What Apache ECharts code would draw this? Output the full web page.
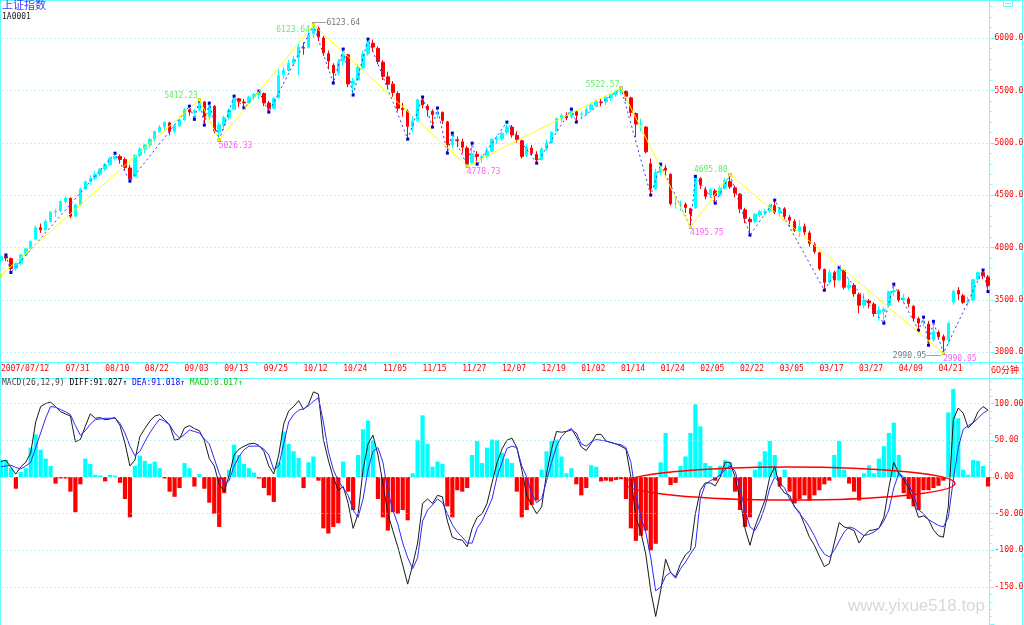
<!DOCTYPE html>
<html>
<head>
<meta charset="utf-8">
<title>上证指数 60分钟 MACD</title>
<script src="https://cdn.jsdelivr.net/npm/echarts@6/dist/echarts.min.js"></script>
<style>
html, body { margin: 0; padding: 0; background: #fff; }
#main { width: 1024px; height: 625px; }
</style>
</head>
<body>
<div id="main"></div>
<script>
// trading days on the chart (one candle per day)
const dates = [
  '2007/07/12','2007/07/13','2007/07/16','2007/07/17','2007/07/18','2007/07/19','2007/07/20','2007/07/23','2007/07/24','2007/07/25','2007/07/26','2007/07/27','2007/07/30','2007/07/31',
  '2007/08/01','2007/08/02','2007/08/03','2007/08/06','2007/08/07','2007/08/08','2007/08/09','2007/08/10','2007/08/13','2007/08/14','2007/08/15','2007/08/16','2007/08/17','2007/08/20','2007/08/21','2007/08/22','2007/08/23','2007/08/24','2007/08/27','2007/08/28','2007/08/29','2007/08/30','2007/08/31',
  '2007/09/03','2007/09/04','2007/09/05','2007/09/06','2007/09/07','2007/09/10','2007/09/11','2007/09/12','2007/09/13','2007/09/14','2007/09/17','2007/09/18','2007/09/19','2007/09/20','2007/09/21','2007/09/24','2007/09/25','2007/09/26','2007/09/27','2007/09/28',
  '2007/10/08','2007/10/09','2007/10/10','2007/10/11','2007/10/12','2007/10/15','2007/10/16','2007/10/17','2007/10/18','2007/10/19','2007/10/22','2007/10/23','2007/10/24','2007/10/25','2007/10/26','2007/10/29','2007/10/30','2007/10/31',
  '2007/11/01','2007/11/02','2007/11/05','2007/11/06','2007/11/07','2007/11/08','2007/11/09','2007/11/12','2007/11/13','2007/11/14','2007/11/15','2007/11/16','2007/11/19','2007/11/20','2007/11/21','2007/11/22','2007/11/23','2007/11/26','2007/11/27','2007/11/28','2007/11/29','2007/11/30',
  '2007/12/03','2007/12/04','2007/12/05','2007/12/06','2007/12/07','2007/12/10','2007/12/11','2007/12/12','2007/12/13','2007/12/14','2007/12/17','2007/12/18','2007/12/19','2007/12/20','2007/12/21','2007/12/24','2007/12/25','2007/12/26','2007/12/27','2007/12/28',
  '2008/01/02','2008/01/03','2008/01/04','2008/01/07','2008/01/08','2008/01/09','2008/01/10','2008/01/11','2008/01/14','2008/01/15','2008/01/16','2008/01/17','2008/01/18','2008/01/21','2008/01/22','2008/01/23','2008/01/24','2008/01/25','2008/01/28','2008/01/29','2008/01/30','2008/01/31',
  '2008/02/01','2008/02/04','2008/02/05','2008/02/13','2008/02/14','2008/02/15','2008/02/18','2008/02/19','2008/02/20','2008/02/21','2008/02/22','2008/02/25','2008/02/26','2008/02/27','2008/02/28','2008/02/29',
  '2008/03/03','2008/03/04','2008/03/05','2008/03/06','2008/03/07','2008/03/10','2008/03/11','2008/03/12','2008/03/13','2008/03/14','2008/03/17','2008/03/18','2008/03/19','2008/03/20','2008/03/21','2008/03/24','2008/03/25','2008/03/26','2008/03/27','2008/03/28','2008/03/31',
  '2008/04/01','2008/04/02','2008/04/03','2008/04/07','2008/04/08','2008/04/09','2008/04/10','2008/04/11','2008/04/14','2008/04/15','2008/04/16','2008/04/17','2008/04/18','2008/04/21','2008/04/22','2008/04/23','2008/04/24','2008/04/25','2008/04/28','2008/04/29','2008/04/30',
  '2008/05/05','2008/05/06','2008/05/07'
];

// dates written under the price panel
const tickDates = ['2007/07/12','2007/07/31','2007/08/10','2007/08/22','2007/09/03','2007/09/13','2007/09/25','2007/10/12',
  '2007/10/24','2007/11/05','2007/11/15','2007/11/27','2007/12/07','2007/12/19','2008/01/02','2008/01/14','2008/01/24',
  '2008/02/05','2008/02/22','2008/03/05','2008/03/17','2008/03/27','2008/04/09','2008/04/21'];

// [open, close, low, high]
const candles = [
  [3880,3915,3860,3928],[3915,3900,3870,3930],[3895,3800,3762,3905],[3800,3851,3780,3862],[3850,3930,3832,3940],
  [3930,3988,3918,3998],[3990,4058,3978,4070],[4080,4190,4070,4210],[4190,4170,4140,4230],[4170,4250,4160,4270],
  [4250,4338,4240,4350],[4338,4345,4290,4370],[4350,4440,4340,4450],[4440,4471,4420,4490],[4470,4300,4280,4480],
  [4300,4408,4290,4420],[4410,4560,4400,4575],[4560,4628,4550,4640],[4628,4660,4600,4690],[4660,4700,4640,4730],
  [4700,4749,4680,4760],[4750,4790,4730,4810],[4790,4850,4780,4870],[4850,4872,4830,4901],[4870,4840,4800,4890],
  [4840,4765,4740,4860],[4760,4656,4634,4790],[4680,4880,4670,4890],[4880,4940,4860,4960],[4940,4980,4900,4990],
  [4980,5033,4950,5050],[5033,5107,5010,5115],[5107,5150,5095,5170],[5150,5194,5120,5205],[5190,5110,5070,5200],
  [5110,5162,5090,5180],[5162,5218,5150,5230],[5220,5321,5210,5335],[5320,5294,5260,5350],[5290,5310,5224,5320],
  [5310,5393,5300,5412.23],[5390,5250,5169,5400],[5250,5356,5220,5379],[5350,5113,5090,5360],[5100,5172,5026.33,5200],
  [5170,5240,5120,5260],[5240,5313,5220,5330],[5320,5421,5310,5446],[5420,5397,5340,5430],[5390,5380,5332,5420],
  [5380,5437,5370,5450],[5440,5460,5410,5480],[5460,5470,5420,5494],[5470,5380,5350,5480],[5380,5330,5293,5400],
  [5330,5425,5320,5440],[5430,5640,5420,5700],[5650,5692,5610,5720],[5690,5760,5680,5790],[5760,5800,5730,5830],
  [5810,5914,5647,5950],[5910,5903,5840,5960],[5910,6030,5900,6060],[6040,6092,6000,6123.64],[6090,6010,5970,6110],
  [6000,5860,5830,6020],[5850,5780,5700,5880],[5740,5667,5570,5760],[5670,5773,5640,5800],[5780,5843,5740,5895],
  [5840,5562,5530,5850],[5560,5589,5456,5620],[5600,5720,5590,5750],[5720,5850,5700,5880],[5850,5955,5830,5990],
  [5950,5914,5870,5985],[5900,5777,5750,5920],[5770,5634,5600,5790],[5630,5560,5520,5680],[5560,5480,5440,5590],
  [5470,5330,5300,5490],[5330,5316,5250,5380],[5300,5158,5035,5320],[5150,5208,5100,5260],[5210,5412,5200,5420],
  [5410,5362,5330,5437],[5350,5316,5250,5370],[5300,5269,5150,5320],[5270,5292,5230,5332],[5290,5214,5180,5300],
  [5200,4984,4902,5210],[4980,5032,4950,5093],[5030,5019,4960,5060],[5010,4958,4900,5040],[4950,4803,4778.73,4970],
  [4810,4897,4790,4997],[4890,4871,4796,4920],[4860,4868,4810,4890],[4870,4918,4850,4960],[4920,5035,4910,5040],
  [5035,5037,4990,5070],[5040,5091,5020,5110],[5100,5151,5080,5198],[5150,5075,5050,5170],[5070,5031,5000,5110],
  [5020,4870,4850,5030],[4880,4960,4860,4990],[4950,4900,4880,4980],[4890,4836,4806,4920],[4840,4942,4830,4960],
  [4940,5000,4920,5030],[5000,5101,4990,5110],[5110,5234,5100,5240],[5230,5260,5200,5280],[5260,5240,5217,5290],
  [5250,5308,5230,5322],[5300,5262,5198,5310],[5270,5272,5230,5300],[5280,5319,5260,5340],[5320,5361,5300,5380],
  [5360,5393,5340,5410],[5390,5386,5350,5420],[5390,5435,5360,5450],[5430,5456,5400,5470],[5460,5484,5440,5500],
  [5490,5497,5460,5522.57],[5490,5444,5400,5500],[5430,5291,5250,5440],[5280,5179,5055,5290],[5180,5180,5110,5230],
  [5150,4914,4900,5160],[4800,4559,4501,4850],[4560,4717,4550,4750],[4720,4761,4690,4797],[4760,4740,4700,4790],
  [4700,4419,4400,4710],[4420,4420,4370,4480],[4410,4418,4350,4450],[4410,4383,4330,4430],[4370,4320,4195.75,4380],
  [4380,4672,4370,4680],[4660,4599,4560,4670],[4550,4490,4460,4580],[4500,4552,4480,4570],[4540,4497,4424,4560],
  [4500,4568,4490,4590],[4570,4640,4550,4660],[4630,4580,4560,4695.80],[4570,4520,4480,4590],[4510,4370,4329,4520],
  [4360,4280,4233,4380],[4270,4246,4119,4290],[4250,4318,4230,4330],[4310,4343,4290,4360],[4340,4348,4310,4370],
  [4350,4400,4330,4420],[4400,4336,4320,4453],[4330,4370,4300,4390],[4370,4300,4270,4386],[4290,4262,4200,4310],
  [4250,4165,4150,4270],[4160,4200,4100,4262],[4200,4148,4120,4230],[4140,4040,4010,4160],[4030,3962,3940,4050],
  [3950,3800,3780,3960],[3790,3668,3593,3800],[3670,3760,3650,3790],[3760,3690,3620,3780],[3690,3796,3680,3813],
  [3780,3622,3600,3790],[3620,3640,3590,3700],[3640,3560,3530,3660],[3550,3450,3374,3570],[3450,3500,3420,3565],
  [3490,3472,3420,3510],[3460,3370,3340,3480],[3370,3400,3300,3440],[3390,3412,3278,3430],[3450,3580,3440,3590],
  [3580,3590,3540,3651],[3580,3500,3480,3600],[3500,3519,3470,3560],[3510,3466,3430,3530],[3440,3325,3300,3450],
  [3320,3280,3211,3340],[3290,3300,3250,3336],[3270,3120,3068,3300],[3120,3200,3100,3296],[3190,3150,3120,3210],
  [3150,3116,2990.95,3170],[3120,3278,3080,3290],[3480,3583,3450,3600],[3590,3557,3500,3622],[3540,3478,3460,3560],
  [3480,3483,3440,3530],[3500,3693,3490,3700],[3700,3761,3690,3770],[3760,3730,3700,3786],[3720,3637,3580,3740]
];

// big swing line (yellow): day index and price
const zigIdx = [0, 40, 44, 63, 94, 125, 139, 147, 190];
const zigVal = [3737, 5412.23, 5026.33, 6123.64, 4778.73, 5522.57, 4195.75, 4695.80, 2990.95];

// small swing line (blue dashed)
const swingIdx = [1, 2, 23, 26, 38, 39, 40, 41, 42, 44, 47, 49, 52, 54, 63, 67, 69, 71, 74, 82, 85, 87, 88, 90, 91, 94, 95, 96,
  102, 108, 115, 116, 125, 131, 133, 139, 140, 144, 147, 151, 156, 166, 169, 178, 180, 185, 186, 187, 188, 190, 198, 199];
const swingVal = [3930, 3762, 4901, 4634, 5350, 5224, 5412.23, 5169, 5379, 5026.33, 5446, 5332, 5494, 5293, 6123.64, 5570, 5895, 5456,
  5990, 5035, 5437, 5150, 5332, 4902, 5093, 4778.73, 4997, 4796, 5198, 4806, 5322, 5198, 5522.57, 4501, 4797, 4195.75, 4680, 4424,
  4695.80, 4119, 4453, 3593, 3813, 3278, 3651, 3211, 3336, 3068, 3296, 2990.95, 3786, 3580];

// marked highs and lows
const peakMarks = [[40, 5412.23], [63, 6123.64], [125, 5522.57], [147, 4695.80]];
const troughMarks = [[44, 5026.33], [94, 4778.73], [139, 4195.75], [190, 2990.95]];
const extremeMarks = [[63, 6123.64], [190, 2990.95]];

// MACD(26,12,9)
const diff = [
  21,23,13,4,14,20,33,75,96,100, 102,96,89,86,83,48,51,69,86,80, 81,78,79,81,70,46,15,23,55,66,
  76,83,85,78,71,50,52,67,70,66, 63,50,25,15,-10,-20,2,30,38,42, 45,46,43,35,15,4,30,72,90,96,
  104,92,99,116,113,51,23,-1,-18,-13, -36,-70,-50,10,45,57,30,-9,-50,-73, -95,-120,-146,-120,-90,-36,-30,-36,-25,-27,
  -60,-82,-85,-86,-95,-70,-55,-50,-36,-8, 19,38,50,53,40,10,-25,-38,-50,-41, 5,38,62,61,62,66,55,41,36,46,
  58,58,49,47,45,42,38,0,-55,-75, -105,-155,-190,-155,-112,-130,-136,-118,-106,-100, -50,-18,-8,-8,-12,0,20,20,0,-30,
  -70,-93,-68,-50,-32,0,14,-13,-22,-25, -41,-48,-65,-82,-93,-108,-122,-118,-90,-62, -68,-70,-73,-90,-80,-73,-72,-70,-55,-15,
  20,5,-3,-15,-35,-55,-53,-58,-72,-80, -82,-40,78,94,87,67,74,89,96,91.027
];
const dea = [
  14,15,16,13,11,15,20,40,60,80, 96,95,92,89,85,70,57,63,72,78, 79,80,80,80,73,60,42,29,35,48,
  60,70,79,76,71,60,53,58,64,62, 60,52,45,25,5,-10,-5,15,28,37, 42,42,42,38,30,10,15,45,75,85,
  91,93,97,103,108,75,35,10,-5,-15, -25,-45,-55,-30,10,35,40,20,-20,-45, -64,-90,-110,-125,-110,-60,-45,-38,-30,-35,
  -50,-65,-75,-82,-90,-90,-70,-60,-45,-30, 0,20,39,42,40,15,0,-23,-35,-30, -5,20,42,55,62,64,60,45,42,48,
  51,50,49,47,45,44,40,20,-25,-55, -75,-110,-155,-150,-135,-130,-138,-125,-116,-105, -95,-30,-10,-5,-2,3,10,15,8,-15,
  -45,-68,-73,-60,-41,-15,0,-8,-15,-30, -40,-50,-58,-68,-80,-95,-105,-109,-100,-87, -75,-68,-70,-75,-80,-78,-75,-70,-60,-45,
  -15,5,0,-10,-25,-45,-50,-58,-62,-66, -68,-55,-4,40,65,70,74,80,87,91.018
];
const hist = [
  23,23,12,-16,7,12,40,58,37,25, 15,-9,-2,-2,-20,-48,-10,25,18,3, 2,-6,3,2,-8,-30,-55,15,29,22,
  18,21,12,-2,-20,-27,-15,19,12,-13, 4,-16,-35,-50,-68,-22,10,44,30,18, 12,6,-2,-15,-25,-34,20,62,45,35,
  26,-15,20,28,-5,-70,-77,-68,-63,21, -20,-45,30,65,77,50,-30,-55,-73,-48, -50,-45,-59,5,50,84,45,14,21,18,
  -40,-55,-18,-20,-15,30,49,19,40,51, 50,33,25,19,-20,-55,-45,-38,-32,10, 35,49,51,28,5,12,-10,-25,-15,16,
  14,-6,-5,-6,-4,-3,-30,-70,-87,-80, -73,-100,-91,20,60,-11,-8,15,28,60, 99,69,19,15,-5,15,23,20,-20,-45,
  -68,-55,10,21,35,49,30,-13,10,-20, -36,-30,-25,-32,-25,-18,-10,-5,30,49, 10,-9,-20,-32,5,16,5,25,42,60,
  74,30,-22,-30,-40,-45,-18,-18,-15,-12, -5,88,120,80,10,3,23,22,15,-13
];

const priceTicks = [3000, 6000];       // labelled price range
const macdTicks = [100, 50, 0, -50, -100, -150];
const macdLegend = ['91.027', '91.018', '0.017'];

const chart = echarts.init(document.getElementById('main'));

const upColor = '#00ffff';
const downColor = '#ff0000';
const frameColor = '#66ffff';
const dotColor = '#8fe3e3';
const mono = 'DejaVu Sans Mono';
const plotLeft = -1.5;
const plotWidth = 992;

// label placement for the marked points (pixels, relative to the point)
const peakPlace = { 40: [-1, 1, 'bottom'], 63: [-3, 1, 'top'], 125: [-1, 1, 'bottom'], 147: [-2, 0, 'bottom'] };

const markText = {
  fontFamily: mono,
  fontSize: 8
};

const labelData = [];
peakMarks.forEach(([i, v]) => {
  const p = peakPlace[i];
  labelData.push({
    value: [i, v],
    label: Object.assign({ show: true, formatter: v.toFixed(2), color: '#33ee33', position: [p[0], p[1]], align: 'right', verticalAlign: p[2] }, markText)
  });
});
troughMarks.forEach(([i, v]) => {
  labelData.push({
    value: [i, v],
    label: Object.assign({ show: true, formatter: v.toFixed(2), color: '#ff33ff', position: [0, 2], align: 'left', verticalAlign: 'top' }, markText)
  });
});
extremeMarks.forEach(([i, v], k) => {
  const isHigh = k === 0;
  labelData.push({
    value: [i, v],
    label: Object.assign({
      show: true,
      formatter: isHigh ? '\u2500\u2500\u2500' + v.toFixed(2) : v.toFixed(2) + '\u2500\u2500\u2500',
      color: '#555555',
      position: isHigh ? [-1, -2] : [-2, 3.5],
      align: isHigh ? 'left' : 'right',
      verticalAlign: 'middle'
    }, markText)
  });
});

const option = {
  animation: false,
  backgroundColor: '#ffffff',
  grid: [
    { left: plotLeft, width: plotWidth, top: -14.33, height: 366.67, outerBoundsMode: 'none', containLabel: false },
    { left: plotLeft, width: plotWidth, top: 366.9, height: 256.9, outerBoundsMode: 'none', containLabel: false }
  ],
  xAxis: [
    {
      type: 'category', gridIndex: 0, data: dates, boundaryGap: true, position: 'bottom', offset: 10,
      axisLine: { show: false },
      axisTick: { show: true, interval: 1, length: 3, lineStyle: { color: frameColor } },
      axisLabel: {
        color: '#ff0000', fontFamily: mono, fontSize: 8, align: 'left', margin: 3,
        interval: (idx, val) => tickDates.indexOf(val) >= 0,
        formatter: (val, idx) => idx === 0 ? val : val.slice(5)
      },
      splitLine: { show: false }
    },
    { type: 'category', gridIndex: 1, data: dates, boundaryGap: true, show: false }
  ],
  yAxis: [
    {
      type: 'value', gridIndex: 0, position: 'right', min: 3000, max: 6500, interval: 500,
      axisLine: { show: false },
      axisTick: { show: true, length: 4, lineStyle: { color: frameColor } },
      minorTick: { show: true, splitNumber: 5, length: 2, lineStyle: { color: frameColor } },
      axisLabel: {
        color: '#ff0000', fontFamily: mono, fontSize: 8, margin: 4,
        formatter: v => (v < priceTicks[0] || v > priceTicks[1]) ? '' : v.toFixed(1)
      },
      splitLine: { show: true, lineStyle: { color: dotColor, type: [1, 3], width: 1 } }
    },
    {
      type: 'value', gridIndex: 1, position: 'right', min: -200, max: 150, interval: 50,
      axisLine: { show: false },
      axisTick: { show: true, length: 4, lineStyle: { color: frameColor } },
      minorTick: { show: true, splitNumber: 5, length: 2, lineStyle: { color: frameColor } },
      axisLabel: {
        color: '#ff0000', fontFamily: mono, fontSize: 8, margin: 4,
        formatter: v => (v > macdTicks[0] || v < macdTicks[macdTicks.length - 1]) ? '' : v.toFixed(2)
      },
      splitLine: { show: false }
    }
  ],
  series: [
    {
      name: 'K', type: 'candlestick', xAxisIndex: 0, yAxisIndex: 0, data: candles, barWidth: 3, clip: false,
      itemStyle: { color: upColor, color0: downColor, borderColor: upColor, borderColor0: downColor, borderWidth: 1 }
    },
    {
      name: 'swing', type: 'line', xAxisIndex: 0, yAxisIndex: 0, clip: false, z: 4,
      data: swingIdx.map((d, k) => [d, swingVal[k]]),
      symbol: 'rect', symbolSize: 3, showSymbol: true,
      itemStyle: { color: '#0000cc' },
      lineStyle: { color: '#3535ff', width: 1, type: [2, 3] }
    },
    {
      name: 'zig', type: 'line', xAxisIndex: 0, yAxisIndex: 0, clip: false, z: 5,
      data: zigIdx.map((d, k) => [d, zigVal[k]]),
      symbol: 'rect', symbolSize: 3, showSymbol: true,
      itemStyle: { color: '#f0f000' },
      lineStyle: { color: '#ffff00', width: 1 }
    },
    {
      name: 'marks', type: 'scatter', xAxisIndex: 0, yAxisIndex: 0, clip: false, z: 6, silent: true,
      symbol: 'rect', symbolSize: 1, itemStyle: { color: 'rgba(0,0,0,0)' },
      data: labelData
    },
    {
      name: 'MACD', type: 'bar', xAxisIndex: 1, yAxisIndex: 1, data: hist, barWidth: '85%',
      itemStyle: { color: p => p.value >= 0 ? upColor : downColor },
      markLine: {
        silent: true, symbol: 'none', label: { show: false },
        lineStyle: { color: dotColor, type: [1, 3], width: 1 },
        data: macdTicks.map(v => ({ yAxis: v }))
      }
    },
    {
      name: 'DIFF', type: 'line', xAxisIndex: 1, yAxisIndex: 1, data: diff, clip: false,
      showSymbol: false, lineStyle: { color: '#1a1a1a', width: 1 }, z: 4
    },
    {
      name: 'DEA', type: 'line', xAxisIndex: 1, yAxisIndex: 1, data: dea, clip: false,
      showSymbol: false, lineStyle: { color: '#2a2aff', width: 1 }, z: 4
    }
  ],
  graphic: [
    // panel frame
    { type: 'line', shape: { x1: 0.5, y1: 0, x2: 0.5, y2: 625 }, style: { stroke: frameColor, lineWidth: 1 } },
    { type: 'line', shape: { x1: 0, y1: 0.5, x2: 1023, y2: 0.5 }, style: { stroke: frameColor, lineWidth: 1 } },
    { type: 'line', shape: { x1: 989.5, y1: 0, x2: 989.5, y2: 625 }, style: { stroke: frameColor, lineWidth: 1 } },
    { type: 'line', shape: { x1: 1022.5, y1: 0, x2: 1022.5, y2: 625 }, style: { stroke: frameColor, lineWidth: 1 } },
    { type: 'line', shape: { x1: 0, y1: 362.5, x2: 1023, y2: 362.5 }, style: { stroke: frameColor, lineWidth: 1 } },
    { type: 'line', shape: { x1: 0, y1: 378.5, x2: 1023, y2: 378.5 }, style: { stroke: frameColor, lineWidth: 1 } },
    { type: 'rect', shape: { x: 1003.5, y: 0.5, width: 9, height: 6 }, style: { stroke: frameColor, fill: 'none', lineWidth: 1 } },
    { type: 'line', shape: { x1: 1005, y1: 3.5, x2: 1011, y2: 3.5 }, style: { stroke: frameColor, lineWidth: 1 } },
    // titles
    { type: 'text', x: 2, y: -1, style: { text: '上证指数', fill: '#3a3aff', fontSize: 11, fontFamily: 'Noto Sans CJK SC' } },
    { type: 'text', x: 2, y: 13, style: { text: '1A0001', fill: '#202020', fontSize: 8, fontFamily: mono } },
    { type: 'text', x: 991, y: 365, style: { text: '60分钟', fill: '#ff0000', fontSize: 9, fontFamily: 'Noto Sans CJK SC' } },
    {
      type: 'text', x: 2, y: 379, z: 20,
      style: {
        text: '{k|MACD(26,12,9)} {d|DIFF:' + macdLegend[0] + '\u2191} {b|DEA:' + macdLegend[1] + '\u2191} {g|MACD:' + macdLegend[2] + '\u2191}',
        fontSize: 8, fontFamily: mono,
        rich: {
          k: { fill: '#404040', fontSize: 8, fontFamily: mono },
          d: { fill: '#000000', fontSize: 8, fontFamily: mono },
          b: { fill: '#0000ff', fontSize: 8, fontFamily: mono },
          g: { fill: '#00cc00', fontSize: 8, fontFamily: mono }
        }
      }
    },
    // hand drawn ellipse on the MACD panel
    { type: 'ellipse', z: 20, shape: { cx: 790, cy: 483.5, rx: 165, ry: 16.5 }, style: { stroke: '#ff0000', fill: 'none', lineWidth: 1.5 } },
    // watermark
    { type: 'text', x: 848, y: 598, z: 20, style: { text: 'www.yixue518.top', fill: '#d8d8d8', fontSize: 17, fontFamily: 'Liberation Sans' } }
  ]
};

chart.setOption(option);
</script>
</body>
</html>
